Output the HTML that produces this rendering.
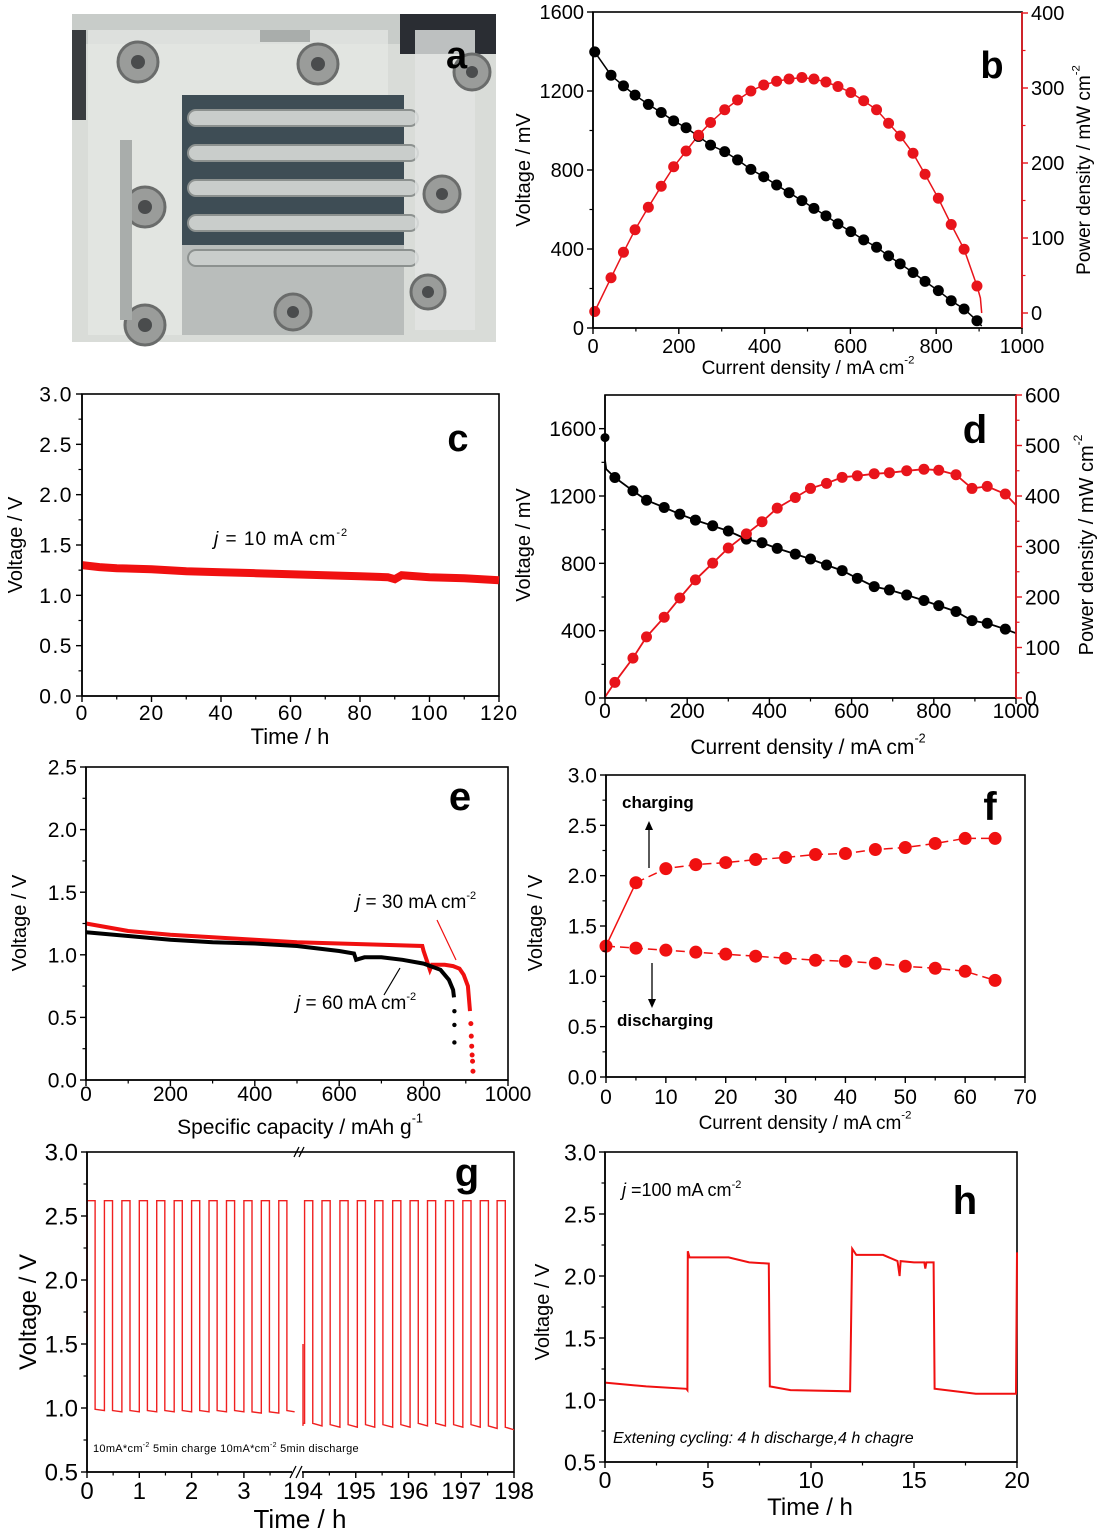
<!DOCTYPE html>
<html><head><meta charset="utf-8">
<style>
html,body{margin:0;padding:0;background:#fff;}
svg{display:block;font-family:"Liberation Sans",Arial,sans-serif;}
</style></head>
<body>
<svg id="fig" width="1100" height="1535" viewBox="0 0 1100 1535" xmlns="http://www.w3.org/2000/svg">
<g>
  <rect x="72" y="14" width="424" height="328" fill="#d9dcd8"/>
  <rect x="72" y="14" width="424" height="30" fill="#c8ccc9"/>
  <rect x="400" y="14" width="96" height="40" fill="#2a2d33"/>
  <rect x="72" y="30" width="14" height="90" fill="#3a3d40"/>
  <rect x="88" y="30" width="300" height="305" fill="#e6e8e5" opacity="0.7"/>
  <rect x="182" y="95" width="222" height="240" fill="#b9bdbb"/>
  <rect x="182" y="95" width="222" height="150" fill="#3e4d55"/>
  <g fill="#c9cdcb" stroke="#8c918f" stroke-width="2">
    <rect x="188" y="110" width="230" height="16" rx="8"/>
    <rect x="188" y="145" width="230" height="16" rx="8"/>
    <rect x="188" y="180" width="230" height="16" rx="8"/>
    <rect x="188" y="215" width="230" height="16" rx="8"/>
    <rect x="188" y="250" width="230" height="16" rx="8"/>
  </g>
  <rect x="415" y="30" width="60" height="300" fill="#e2e5e3" opacity="0.8"/>
  <g fill="#9a9c9a" stroke="#6a6c6b" stroke-width="3">
    <circle cx="138" cy="62" r="20"/><circle cx="318" cy="64" r="20"/><circle cx="472" cy="72" r="18"/>
    <circle cx="145" cy="207" r="20"/><circle cx="442" cy="194" r="18"/>
    <circle cx="145" cy="325" r="20"/><circle cx="293" cy="312" r="18"/><circle cx="428" cy="292" r="17"/>
  </g>
  <g fill="#4a4c4d">
    <circle cx="138" cy="62" r="7"/><circle cx="318" cy="64" r="7"/><circle cx="472" cy="72" r="6"/>
    <circle cx="145" cy="207" r="7"/><circle cx="442" cy="194" r="6"/>
    <circle cx="145" cy="325" r="7"/><circle cx="293" cy="312" r="6"/><circle cx="428" cy="292" r="6"/>
  </g>
  <rect x="120" y="140" width="12" height="180" fill="#a9adab"/>
  <rect x="260" y="30" width="50" height="12" fill="#a9adab"/>
  <text x="446" y="68" font-size="38" font-weight="bold" fill="#000">a</text>
</g>
</svg>
<script>
// ---------- data ----------
// panel b
const bCurrent = [4,42,71,98,129,159,188,217,246,274,307,337,368,398,428,457,487,515,543,571,601,631,661,689,716,746,774,805,835,865,895];
const bVoltage = [1398,1280,1226,1179,1132,1091,1049,1014,970,926,893,851,803,766,724,685,645,606,568,527,488,446,409,365,325,281,236,189,138,96,37];
const bPower = [2,47,81,111,141,169,195,216,237,254,271,284,296,304,309,312,314,312,308,302,294,283,271,253,236,213,185,153,118,85,36];
const bXTicks = ["0","200","400","600","800","1000"];
const bYTicks = ["0","400","800","1200","1600"];
const bY2Ticks = ["0","100","200","300","400"];
// panel c
const cTime = [0,5,10,20,30,40,50,60,70,80,88,90,92,100,110,120];
const cVolt = [1.30,1.28,1.27,1.26,1.24,1.23,1.22,1.21,1.20,1.19,1.18,1.16,1.20,1.18,1.17,1.15];
const cXTicks = ["0","20","40","60","80","100","120"];
const cYTicks = ["0.0","0.5","1.0","1.5","2.0","2.5","3.0"];
// panel d
const dCurrent = [24,68,101,144,182,220,262,300,344,382,419,463,500,539,577,614,655,692,734,776,812,854,893,930,974];
const dVoltage = [1310,1231,1175,1132,1092,1057,1023,992,944,922,889,855,826,790,757,711,662,642,612,579,549,514,460,444,409];
const dPower = [31,79,121,160,198,234,267,297,325,349,376,397,415,425,437,440,444,446,450,453,451,442,415,419,404];
const dXTicks = ["0","200","400","600","800","1000"];
const dYTicks = ["0","400","800","1200","1600"];
const dY2Ticks = ["0","100","200","300","400","500","600"];
// panel e
const eRedCap = [0,100,200,300,400,500,600,700,797,800,805,815,820,850,870,885,895,905,910];
const eRedV = [1.25,1.19,1.16,1.14,1.12,1.10,1.09,1.08,1.07,1.03,0.98,0.88,0.92,0.92,0.91,0.89,0.84,0.75,0.55];
const eRedDotCap = [912,913,914,915,916,917];
const eRedDotV = [0.45,0.35,0.27,0.20,0.15,0.07];
const eBlkCap = [0,100,200,300,400,500,600,635,640,660,700,750,800,840,860,870,872];
const eBlkV = [1.18,1.15,1.12,1.10,1.09,1.07,1.03,1.01,0.96,0.98,0.98,0.96,0.93,0.88,0.80,0.72,0.66];
const eBlkDotCap = [873,873,873];
const eBlkDotV = [0.55,0.44,0.30];
const eXTicks = ["0","200","400","600","800","1000"];
const eYTicks = ["0.0","0.5","1.0","1.5","2.0","2.5"];
// panel f
const fCurrent = [0,5,10,15,20,25,30,35,40,45,50,55,60,65];
const fCharge = [1.30,1.93,2.07,2.11,2.13,2.16,2.18,2.21,2.22,2.26,2.28,2.32,2.37,2.37];
const fDischarge = [1.30,1.28,1.26,1.24,1.22,1.20,1.18,1.16,1.15,1.13,1.10,1.08,1.05,0.96];
const fXTicks = ["0","10","20","30","40","50","60","70"];
const fYTicks = ["0.0","0.5","1.0","1.5","2.0","2.5","3.0"];
// panel g
const gLeftRise = [0,0.333,0.667,1,1.333,1.667,2,2.333,2.667,3,3.333,3.667];
const gLeftCharge = [2.62,2.62,2.62,2.62,2.62,2.62,2.62,2.62,2.62,2.62,2.62,2.62];
const gLeftDis = [0.99,0.98,0.98,0.98,0.98,0.98,0.98,0.98,0.98,0.97,0.97,0.98];
const gRightRise = [194.03,194.36,194.7,195.03,195.36,195.7,196.03,196.36,196.7,197.03,197.36,197.68];
const gRightCharge = [2.62,2.62,2.62,2.62,2.62,2.62,2.62,2.62,2.62,2.62,2.62,2.62];
const gRightDis = [0.88,0.87,0.87,0.87,0.87,0.87,0.88,0.88,0.87,0.87,0.86,0.85];
const gXTicksLeft = ["0","1","2","3"];
const gXTicksRight = ["194","195","196","197","198"];
const gYTicks = ["0.5","1.0","1.5","2.0","2.5","3.0"];
// panel h
const hTime = [0,2,3.95,4.0,4.02,4.1,6,7,7.95,8,9,11.9,12.0,12.2,13.5,14.2,14.3,14.35,15,15.5,15.55,15.6,15.95,16.0,17,18,19.95,20];
const hVolt = [1.14,1.11,1.09,1.08,2.20,2.15,2.15,2.11,2.10,1.11,1.08,1.07,2.22,2.17,2.17,2.12,2.0,2.12,2.11,2.11,2.06,2.11,2.11,1.09,1.07,1.05,1.05,2.19];
const hXTicks = ["0","5","10","15","20"];
const hYTicks = ["0.5","1.0","1.5","2.0","2.5","3.0"];

// ---------- helpers ----------
const NS = "http://www.w3.org/2000/svg";
const svg = document.getElementById("fig");
function add(parent, tag, attrs, name) {
  const el = document.createElementNS(NS, tag);
  for (const k in attrs) el.setAttribute(k, attrs[k]);
  
  
  parent.appendChild(el);
  return el;
}
function scale(d0, d1, r0, r1) { return v => r0 + (v - d0) / (d1 - d0) * (r1 - r0); }
function txt(parent, x, y, s, size, name, opts) {
  opts = opts || {};
  const t = add(parent, "text", {x: x, y: y, "font-size": size, fill: opts.fill || "#000", "text-anchor": opts.anchor || "middle"}, name);
  if (opts.weight) t.setAttribute("font-weight", opts.weight);
  if (opts.style) t.setAttribute("font-style", opts.style);
  if (opts.ls) t.setAttribute("letter-spacing", opts.ls);
  if (opts.rot) t.setAttribute("transform", "rotate(-90 " + x + " " + y + ")");
  t.textContent = s;
  return t;
}
function sup(t, s, size) {
  const sp = document.createElementNS(NS, "tspan");
  
  
  sp.setAttribute("dy", -size * 0.55);
  sp.setAttribute("font-size", size * 0.6);
  sp.textContent = s;
  t.appendChild(sp);
}
function pathFrom(xs, ys, sx, sy) {
  let d = "";
  for (let i = 0; i < xs.length; i++) d += (i ? "L" : "M") + sx(xs[i]).toFixed(1) + " " + sy(ys[i]).toFixed(1);
  return d;
}
function xAxis(g, x0, x1, y, sx, ticks, minorStep, color, fs, labelDy, name, ls) {
  add(g, "line", {x1: x0, y1: y, x2: x1, y2: y, stroke: color, "stroke-width": 1.6}, name + "-line");
  const vals = ticks.map(Number);
  for (let i = 0; i < vals.length; i++) {
    const x = sx(vals[i]);
    add(g, "line", {x1: x, y1: y, x2: x, y2: y + 6, stroke: color, "stroke-width": 1.4}, name + "-tick");
    txt(g, x, y + labelDy, ticks[i], fs, name + "-label", {ls: ls});
    if (i < vals.length - 1) {
      const m = sx(vals[i] + minorStep);
      add(g, "line", {x1: m, y1: y, x2: m, y2: y + 3.5, stroke: color, "stroke-width": 1.2}, name + "-minor-tick");
    }
  }
}
function yAxis(g, x, y0, y1, sy, ticks, minorStep, color, fs, side, name, ls) {
  add(g, "line", {x1: x, y1: y0, x2: x, y2: y1, stroke: color, "stroke-width": 1.6}, name + "-line");
  const vals = ticks.map(Number);
  const dir = side === "left" ? -1 : 1;
  for (let i = 0; i < vals.length; i++) {
    const y = sy(vals[i]);
    add(g, "line", {x1: x, y1: y, x2: x + dir * 6, y2: y, stroke: color, "stroke-width": 1.4}, name + "-tick");
    txt(g, x + dir * 9, y + fs * 0.36, ticks[i], fs, name + "-label", {anchor: side === "left" ? "end" : "start", ls: ls});
    if (i < vals.length - 1) {
      const m = sy(vals[i] + minorStep);
      add(g, "line", {x1: x, y1: m, x2: x + dir * 3.5, y2: m, stroke: color, "stroke-width": 1.2}, name + "-minor-tick");
    }
  }
}
function markers(g, xs, ys, sx, sy, r, color, name) {
  for (let i = 0; i < xs.length; i++) {
    add(g, "circle", {cx: sx(xs[i]), cy: sy(ys[i]), r: r, fill: color}, name);
  }
}
function box(g, x0, y0, x1, y1, name) {
  add(g, "rect", {x: x0, y: y0, width: x1 - x0, height: y1 - y0, fill: "none", stroke: "#000", "stroke-width": 1.6}, name);
}

// ---------- panel b ----------
(function () {
  const g = add(svg, "g", {}, "panel-b");
  const x0 = 593, x1 = 1022, y0 = 12, y1 = 328;
  const sx = scale(0, 1000, x0, x1), sy = scale(0, 1600, y1, y0), sy2 = scale(-20, 400, y1, 13);
  box(g, x0, y0, x1, y1, "plot-frame-b");
  add(g, "path", {d: pathFrom([0].concat(bCurrent).concat([906]), [1400].concat(bVoltage).concat([10]), sx, sy), fill: "none", stroke: "#000", "stroke-width": 1.5}, "voltage-line-b");
  add(g, "path", {d: pathFrom([0].concat(bCurrent).concat([903, 906]), [0].concat(bPower).concat([20, 0]), sx, sy2), fill: "none", stroke: "#e8141b", "stroke-width": 1.5}, "power-line-b");
  markers(g, bCurrent, bVoltage, sx, sy, 5.5, "#000", "voltage-point-b");
  markers(g, bCurrent, bPower, sx, sy2, 5.5, "#e8141b", "power-point-b");
  xAxis(g, x0, x1, y1, sx, bXTicks, 100, "#000", 20, 25, "x-axis-b");
  yAxis(g, x0, y0, y1, sy, bYTicks, 200, "#000", 20, "left", "y-axis-b");
  yAxis(g, x1, y0, y1, sy2, bY2Ticks, 50, "#e8141b", 20, "right", "y2-axis-b");
  let t = txt(g, 808, 374, "Current density / mA cm", 19, "x-axis-title-b"); sup(t, "-2", 19);
  txt(g, 530, 170, "Voltage / mV", 20, "y-axis-title-b", {rot: true});
  t = txt(g, 1090, 170, "Power density / mW cm", 19, "y2-axis-title-b", {rot: true}); sup(t, "-2", 19);
  txt(g, 992, 78, "b", 38, "panel-label-b", {weight: "bold"});
})();

// ---------- panel c ----------
(function () {
  const g = add(svg, "g", {}, "panel-c");
  const x0 = 82, x1 = 499, y0 = 394, y1 = 696;
  const sx = scale(0, 120, x0, x1), sy = scale(0, 3, y1, y0);
  box(g, x0, y0, x1, y1, "plot-frame-c");
  add(g, "path", {d: pathFrom(cTime, cVolt, sx, sy), fill: "none", stroke: "#f01010", "stroke-width": 8}, "voltage-line-c");
  xAxis(g, x0, x1, y1, sx, cXTicks, 10, "#000", 21, 24, "x-axis-c", 1);
  yAxis(g, x0, y0, y1, sy, cYTicks, 0.25, "#000", 21, "left", "y-axis-c", 1.5);
  txt(g, 290, 744, "Time / h", 22, "x-axis-title-c");
  txt(g, 22, 545, "Voltage / V", 20, "y-axis-title-c", {rot: true});
  const t = add(g, "text", {x: 214, y: 545, "font-size": 19, "letter-spacing": 1}, "annotation-current-c");
  t.innerHTML = '<tspan font-style="italic">j</tspan> = 10 mA cm<tspan dy="-9" font-size="11">-2</tspan>';
  txt(g, 458, 451, "c", 38, "panel-label-c", {weight: "bold"});
})();

// ---------- panel d ----------
(function () {
  const g = add(svg, "g", {}, "panel-d");
  const x0 = 605, x1 = 1016, y0 = 395, y1 = 698;
  const sx = scale(0, 1000, x0, x1), sy = scale(0, 1800, y1, y0), sy2 = scale(0, 600, y1, y0);
  box(g, x0, y0, x1, y1, "plot-frame-d");
  add(g, "path", {d: pathFrom([0, 3].concat(dCurrent).concat([1000]), [1412, 1360].concat(dVoltage).concat([385]), sx, sy), fill: "none", stroke: "#000", "stroke-width": 1.8}, "voltage-line-d");
  add(g, "path", {d: pathFrom([0].concat(dCurrent).concat([1000]), [2].concat(dPower).concat([382]), sx, sy2), fill: "none", stroke: "#e8141b", "stroke-width": 1.8}, "power-line-d");
  markers(g, [0], [1547], sx, sy, 4.5, "#000", "voltage-point-d");
  markers(g, dCurrent, dVoltage, sx, sy, 5.5, "#000", "voltage-point-d");
  markers(g, dCurrent, dPower, sx, sy2, 5.5, "#e8141b", "power-point-d");
  xAxis(g, x0, x1, y1, sx, dXTicks, 100, "#000", 21, 20, "x-axis-d");
  yAxis(g, x0, y0, y1, sy, dYTicks, 200, "#000", 21, "left", "y-axis-d");
  yAxis(g, x1, y0, y1, sy2, dY2Ticks, 50, "#e8141b", 21, "right", "y2-axis-d");
  let t = txt(g, 808, 754, "Current density / mA cm", 21, "x-axis-title-d"); sup(t, "-2", 21);
  txt(g, 530, 545, "Voltage / mV", 20, "y-axis-title-d", {rot: true});
  t = txt(g, 1093, 545, "Power density / mW cm", 20, "y2-axis-title-d", {rot: true}); sup(t, "-2", 20);
  txt(g, 975, 443, "d", 40, "panel-label-d", {weight: "bold"});
})();

// ---------- panel e ----------
(function () {
  const g = add(svg, "g", {}, "panel-e");
  const x0 = 86, x1 = 508, y0 = 767, y1 = 1080;
  const sx = scale(0, 1000, x0, x1), sy = scale(0, 2.5, y1, y0);
  box(g, x0, y0, x1, y1, "plot-frame-e");
  add(g, "path", {d: pathFrom(eRedCap, eRedV, sx, sy), fill: "none", stroke: "#f01010", "stroke-width": 4}, "capacity-line-30");
  markers(g, eRedDotCap, eRedDotV, sx, sy, 2.5, "#f01010", "capacity-point-30");
  add(g, "path", {d: pathFrom(eBlkCap, eBlkV, sx, sy), fill: "none", stroke: "#000", "stroke-width": 4}, "capacity-line-60");
  markers(g, eBlkDotCap, eBlkDotV, sx, sy, 2.2, "#000", "capacity-point-60");
  xAxis(g, x0, x1, y1, sx, eXTicks, 100, "#000", 21, 21, "x-axis-e");
  yAxis(g, x0, y0, y1, sy, eYTicks, 0.25, "#000", 21, "left", "y-axis-e");
  let t = txt(g, 300, 1134, "Specific capacity / mAh g", 21, "x-axis-title-e"); sup(t, "-1", 21);
  txt(g, 26, 923, "Voltage / V", 20, "y-axis-title-e", {rot: true});
  t = add(g, "text", {x: 356, y: 908, "font-size": 19}, "annotation-30");
  t.innerHTML = '<tspan font-style="italic">j</tspan> = 30 mA cm<tspan dy="-9" font-size="11">-2</tspan>';
  add(g, "line", {x1: 437, y1: 920, x2: 456, y2: 960, stroke: "#f01010", "stroke-width": 1.2}, "arrow-30");
  t = add(g, "text", {x: 296, y: 1009, "font-size": 19}, "annotation-60");
  t.innerHTML = '<tspan font-style="italic">j</tspan> = 60 mA cm<tspan dy="-9" font-size="11">-2</tspan>';
  add(g, "line", {x1: 384, y1: 995, x2: 400, y2: 968, stroke: "#000", "stroke-width": 1.2}, "arrow-60");
  txt(g, 460, 810, "e", 40, "panel-label-e", {weight: "bold"});
})();

// ---------- panel f ----------
(function () {
  const g = add(svg, "g", {}, "panel-f");
  const x0 = 606, x1 = 1025, y0 = 775, y1 = 1077;
  const sx = scale(0, 70, x0, x1), sy = scale(0, 3, y1, y0);
  box(g, x0, y0, x1, y1, "plot-frame-f");
  add(g, "path", {d: pathFrom(fCurrent.slice(0, 2), fCharge.slice(0, 2), sx, sy), fill: "none", stroke: "#f01010", "stroke-width": 1.5}, "charge-line-start");
  add(g, "path", {d: pathFrom(fCurrent.slice(1), fCharge.slice(1), sx, sy), fill: "none", stroke: "#f01010", "stroke-width": 1.5, "stroke-dasharray": "9 5"}, "charge-line");
  add(g, "path", {d: pathFrom(fCurrent, fDischarge, sx, sy), fill: "none", stroke: "#f01010", "stroke-width": 1.5, "stroke-dasharray": "9 5"}, "discharge-line");
  markers(g, fCurrent.slice(1), fCharge.slice(1), sx, sy, 6.5, "#f01010", "charge-point");
  markers(g, fCurrent, fDischarge, sx, sy, 6.5, "#f01010", "discharge-point");
  xAxis(g, x0, x1, y1, sx, fXTicks, 5, "#000", 21, 27, "x-axis-f");
  yAxis(g, x0, y0, y1, sy, fYTicks, 0.25, "#000", 21, "left", "y-axis-f");
  let t = txt(g, 805, 1129, "Current density / mA cm", 19, "x-axis-title-f"); sup(t, "-2", 19);
  txt(g, 542, 923, "Voltage / V", 20, "y-axis-title-f", {rot: true});
  txt(g, 622, 808, "charging", 17, "annotation-charging", {anchor: "start", weight: "bold"});
  txt(g, 617, 1026, "discharging", 17, "annotation-discharging", {anchor: "start", weight: "bold"});
  add(g, "line", {x1: 649, y1: 868, x2: 649, y2: 828, stroke: "#000", "stroke-width": 1.3}, "arrow-charging");
  add(g, "path", {d: "M645 830 L649 821 L653 830 Z", fill: "#000"}, "arrow-head-charging");
  add(g, "line", {x1: 652, y1: 963, x2: 652, y2: 1001, stroke: "#000", "stroke-width": 1.3}, "arrow-discharging");
  add(g, "path", {d: "M648 999 L652 1008 L656 999 Z", fill: "#000"}, "arrow-head-discharging");
  txt(g, 990, 820, "f", 40, "panel-label-f", {weight: "bold"});
})();

// ---------- panel g ----------
(function () {
  const g = add(svg, "g", {}, "panel-g");
  const x0 = 87, x1 = 514, y0 = 1152, y1 = 1472;
  const sxl = scale(0, 1, 87, 139.3), sxr = scale(194, 198, 303, 514);
  const sx = t => t < 100 ? sxl(t) : sxr(t);
  const sy = scale(0.5, 3, y1, y0);
  const chargeDur = 0.155;
  box(g, x0, y0, x1, y1, "plot-frame-g");
  let d = "M" + sx(0) + " " + sy(1.58);
  for (let i = 0; i < gLeftRise.length; i++) {
    const r = gLeftRise[i];
    d += "L" + sx(r) + " " + sy(gLeftCharge[i]) + "L" + sx(r + chargeDur) + " " + sy(gLeftCharge[i]) + "L" + sx(r + chargeDur) + " " + sy(gLeftDis[i]);
    const next = i < gLeftRise.length - 1 ? gLeftRise[i + 1] : 3.97;
    d += "L" + sx(next) + " " + sy(gLeftDis[i] - 0.01);
  }
  add(g, "path", {d: d, fill: "none", stroke: "#f02020", "stroke-width": 1.4}, "cycling-line-early");
  d = "M" + sx(194.0) + " " + sy(0.86) + "L" + sx(194.0) + " " + sy(1.5);
  for (let i = 0; i < gRightRise.length; i++) {
    const r = gRightRise[i];
    if (i === 0) d += "L" + sx(194.0) + " " + sy(gRightDis[0]) + "L" + sx(r) + " " + sy(gRightDis[0]);
    d += "L" + sx(r) + " " + sy(gRightCharge[i]) + "L" + sx(r + chargeDur) + " " + sy(gRightCharge[i]) + "L" + sx(r + chargeDur) + " " + sy(gRightDis[i]);
    const next = i < gRightRise.length - 1 ? gRightRise[i + 1] : 198;
    d += "L" + sx(next) + " " + sy(gRightDis[i] - 0.02);
  }
  add(g, "path", {d: d, fill: "none", stroke: "#f02020", "stroke-width": 1.4}, "cycling-line-late");
  // x axis with break
  add(g, "line", {x1: x0, y1: y1, x2: x1, y2: y1, stroke: "#000", "stroke-width": 1.6}, "x-axis-g-line");
  const lt = gXTicksLeft.map(Number), rt = gXTicksRight.map(Number);
  for (let i = 0; i < lt.length; i++) {
    add(g, "line", {x1: sx(lt[i]), y1: y1, x2: sx(lt[i]), y2: y1 + 6, stroke: "#000", "stroke-width": 1.4}, "x-axis-g-tick");
    add(g, "line", {x1: sx(lt[i] + 0.5), y1: y1, x2: sx(lt[i] + 0.5), y2: y1 + 3.5, stroke: "#000", "stroke-width": 1.2}, "x-axis-g-minor-tick");
    txt(g, sx(lt[i]), y1 + 27, gXTicksLeft[i], 24, "x-axis-g-label");
  }
  for (let i = 0; i < rt.length; i++) {
    add(g, "line", {x1: sx(rt[i]), y1: y1, x2: sx(rt[i]), y2: y1 + 6, stroke: "#000", "stroke-width": 1.4}, "x-axis-g-tick");
    if (i < rt.length - 1) add(g, "line", {x1: sx(rt[i] + 0.5), y1: y1, x2: sx(rt[i] + 0.5), y2: y1 + 3.5, stroke: "#000", "stroke-width": 1.2}, "x-axis-g-minor-tick");
    txt(g, sx(rt[i]), y1 + 27, gXTicksRight[i], 24, "x-axis-g-label");
  }
  add(g, "rect", {x: 292, y: y1 - 6, width: 10, height: 12, fill: "#fff"}, "axis-break-gap");
  add(g, "path", {d: "M290 1478 L296 1466 M296 1478 L302 1466", stroke: "#000", "stroke-width": 1.3, fill: "none"}, "axis-break-mark");
  add(g, "path", {d: "M294 1157 L299 1147 M299 1157 L304 1147", stroke: "#000", "stroke-width": 1.3, fill: "none"}, "axis-break-mark-top");
  yAxis(g, x0, y0, y1, sy, gYTicks, 0.25, "#000", 24, "left", "y-axis-g");
  txt(g, 300, 1528, "Time / h", 26, "x-axis-title-g");
  txt(g, 36, 1312, "Voltage / V", 24, "y-axis-title-g", {rot: true});
  const t = add(g, "text", {x: 93, y: 1452, "font-size": 11, "letter-spacing": 0.3}, "annotation-protocol-g");
  t.innerHTML = '10mA*cm<tspan dy="-5" font-size="7">-2</tspan><tspan dy="5"> 5min charge 10mA*cm</tspan><tspan dy="-5" font-size="7">-2</tspan><tspan dy="5"> 5min discharge</tspan>';
  txt(g, 467, 1186, "g", 40, "panel-label-g", {weight: "bold"});
})();

// ---------- panel h ----------
(function () {
  const g = add(svg, "g", {}, "panel-h");
  const x0 = 605, x1 = 1017, y0 = 1152, y1 = 1462;
  const sx = scale(0, 20, x0, x1), sy = scale(0.5, 3, y1, y0);
  box(g, x0, y0, x1, y1, "plot-frame-h");
  add(g, "path", {d: pathFrom(hTime, hVolt, sx, sy), fill: "none", stroke: "#f01010", "stroke-width": 2}, "cycling-line-h");
  xAxis(g, x0, x1, y1, sx, hXTicks, 2.5, "#000", 23, 26, "x-axis-h");
  yAxis(g, x0, y0, y1, sy, hYTicks, 0.25, "#000", 23, "left", "y-axis-h");
  txt(g, 810, 1515, "Time / h", 24, "x-axis-title-h");
  txt(g, 549, 1312, "Voltage / V", 20, "y-axis-title-h", {rot: true});
  let t = add(g, "text", {x: 622, y: 1196, "font-size": 18}, "annotation-current-h");
  t.innerHTML = '<tspan font-style="italic">j</tspan> =100 mA cm<tspan dy="-8" font-size="11">-2</tspan>';
  txt(g, 613, 1443, "Extening cycling: 4 h discharge,4 h chagre", 16, "annotation-protocol-h", {anchor: "start", style: "italic"});
  txt(g, 965, 1214, "h", 40, "panel-label-h", {weight: "bold"});
})();
</script>
</body></html>
